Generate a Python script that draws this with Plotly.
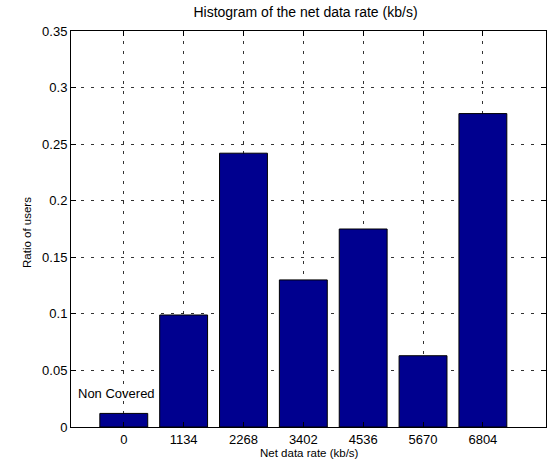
import plotly.graph_objects as go

rates = [0, 1134, 2268, 3402, 4536, 5670, 6804]
ratios = [0.012, 0.099, 0.242, 0.130, 0.175, 0.063, 0.277]
y_ticks = [0, 0.05, 0.1, 0.15, 0.2, 0.25, 0.3, 0.35]
y_labels = ["0", "0.05", "0.1", "0.15", "0.2", "0.25", "0.3", "0.35"]
title = "Histogram of the net data rate (kb/s)"
x_title = "Net data rate (kb/s)"
y_title = "Ratio of users"
note = "Non Covered"
note_x = -130
note_y = 0.030

font = "Liberation Sans, Arial, sans-serif"

W, H = 556, 468
L, R, T, B = 71, 10, 31, 41
pw, ph = W - L - R, H - T - B

fig = go.Figure()
fig.add_trace(go.Bar(
    x=rates, y=ratios, width=0.8 * 1134,
    marker=dict(color="rgb(0,0,143)", line=dict(color="black", width=1)),
))
fig.add_annotation(x=note_x, y=note_y, text=note, showarrow=False,
                   font=dict(family=font, size=13, color="black"),
                   xanchor="center", yanchor="middle")
fig.add_annotation(xref="paper", yref="paper", x=(309 - L) / pw, y=-(453 - (H - B)) / ph,
                   text=x_title, showarrow=False,
                   font=dict(family=font, size=11.5, color="black"),
                   xanchor="center", yanchor="middle")
fig.add_annotation(xref="paper", yref="paper", x=(27 - L) / pw, y=((H - B) - 233) / ph,
                   text=y_title, showarrow=False, textangle=-90,
                   font=dict(family=font, size=11.5, color="black"),
                   xanchor="center", yanchor="middle")

axis_common = dict(
    showline=True, linecolor="black", linewidth=1, mirror="allticks",
    ticks="inside", ticklen=5, tickcolor="black",
    showgrid=True, gridcolor="rgba(0,0,0,0.8)", gridwidth=1, griddash="3px,7px",
    zeroline=False, tickfont=dict(family=font, size=13, color="black"),
)

fig.update_layout(
    width=W, height=H,
    margin=dict(l=L, r=R, t=T, b=B),
    paper_bgcolor="white", plot_bgcolor="white",
    showlegend=False,
    title=dict(text=title, x=305.5 / W, xanchor="center", y=1 - 12 / H, yanchor="middle",
               font=dict(family=font, size=14, color="black")),
    xaxis=dict(range=[-1000, 8000], tickvals=rates, ticktext=[str(r) for r in rates],
               **axis_common),
    yaxis=dict(range=[0, 0.35], tickvals=y_ticks, ticktext=y_labels,
               **axis_common),
)

fig.write_html("out.html")
